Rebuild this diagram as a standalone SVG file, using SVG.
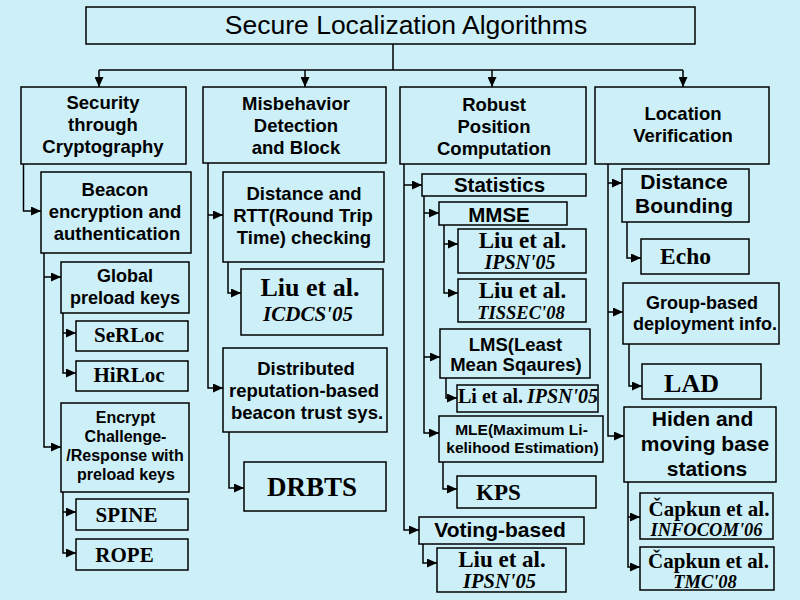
<svg xmlns="http://www.w3.org/2000/svg" width="800" height="600" viewBox="0 0 800 600">
<defs>
<marker id="ah" markerUnits="userSpaceOnUse" markerWidth="10" markerHeight="9" refX="10" refY="4.5" orient="auto">
<path d="M0,0 L10,4.5 L0,9 z" fill="#000"/>
</marker>
<style>
.bg{fill:#cdf0f8}
.box{fill:#cdf0f8;stroke:#000;stroke-width:1.5}
.ln{fill:none;stroke:#000;stroke-width:1.5;marker-end:url(#ah)}
.ln0{fill:none;stroke:#000;stroke-width:1.5}
text{fill:#000;text-anchor:middle}
.s{font-family:"Liberation Sans",Arial,sans-serif;font-weight:bold}
.r{font-family:"Liberation Serif","Times New Roman",serif;font-weight:bold}
.i{font-family:"Liberation Serif","Times New Roman",serif;font-weight:bold;font-style:italic}
.t{font-family:"Liberation Sans",Arial,sans-serif;font-size:26.5px}
</style>
</defs>
<rect class="bg" x="0" y="0" width="800" height="600"/>

<g id="connectors">
<path class="ln0" d="M393,44 V70 M99,70 H683"/>
<path class="ln" d="M99,70 V87"/>
<path class="ln" d="M305,70 V87"/>
<path class="ln" d="M492,70 V87"/>
<path class="ln" d="M683,70 V87"/>
<path class="ln" d="M23.5,164 V211 H41"/>
<path class="ln" d="M44,253 V447 H61"/>
<path class="ln" d="M44,277 H61"/>
<path class="ln" d="M63,313 V373 H76"/>
<path class="ln" d="M63,333 H76"/>
<path class="ln" d="M63,492 V553 H76"/>
<path class="ln" d="M63,512 H76"/>
<path class="ln" d="M208,163 V388 H223"/>
<path class="ln" d="M208,215 H223"/>
<path class="ln" d="M228,262 V293 H241"/>
<path class="ln" d="M229,432 V488 H244"/>
<path class="ln" d="M404,164 V530 H419"/>
<path class="ln" d="M404,185 H422"/>
<path class="ln" d="M424,196 V433 H439"/>
<path class="ln" d="M424,213 H439"/>
<path class="ln" d="M424,357 H440"/>
<path class="ln" d="M444,225 V293 H458"/>
<path class="ln" d="M444,244 H458"/>
<path class="ln" d="M446,378 V398 H457"/>
<path class="ln" d="M443,462 V489 H457"/>
<path class="ln" d="M423,544 V563 H437"/>
<path class="ln" d="M608,164 V436 H624"/>
<path class="ln" d="M608,183 H622"/>
<path class="ln" d="M608,312 H623"/>
<path class="ln" d="M627,222 V258 H641"/>
<path class="ln" d="M629,344 V386 H642"/>
<path class="ln" d="M628,482 V567 H640"/>
<path class="ln" d="M628,517 H640"/>
</g>

<g id="title">
<rect class="box" x="86" y="7" width="609" height="37"/>
<text class="t" x="406" y="34">Secure Localization Algorithms</text>
</g>

<g id="security" font-size="18.5">
<rect class="box" x="21" y="87" width="165" height="77"/>
<text class="s" x="103" y="109">Security</text>
<text class="s" x="103" y="131">through</text>
<text class="s" x="103" y="153">Cryptography</text>
</g>
<g id="misbehavior" font-size="18.5">
<rect class="box" x="203" y="87" width="183" height="76"/>
<text class="s" x="296" y="110">Misbehavior</text>
<text class="s" x="296" y="132">Detection</text>
<text class="s" x="296" y="154">and Block</text>
</g>
<g id="robust" font-size="18.5">
<rect class="box" x="400" y="87" width="186" height="77"/>
<text class="s" x="494" y="111">Robust</text>
<text class="s" x="494" y="133">Position</text>
<text class="s" x="494" y="155">Computation</text>
</g>
<g id="location" font-size="18.5">
<rect class="box" x="595" y="87" width="174" height="77"/>
<text class="s" x="683" y="120">Location</text>
<text class="s" x="683" y="142">Verification</text>
</g>

<g id="beacon" font-size="18.5">
<rect class="box" x="41" y="172" width="150" height="81"/>
<text class="s" x="115" y="196">Beacon</text>
<text class="s" x="115" y="218">encryption and</text>
<text class="s" x="117" y="240">authentication</text>
</g>
<g id="global" font-size="18">
<rect class="box" x="61" y="262" width="128" height="51"/>
<text class="s" x="125" y="282">Global</text>
<text class="s" x="125" y="304">preload keys</text>
</g>
<g id="serloc" font-size="21">
<rect class="box" x="76" y="321" width="112" height="30"/>
<text class="r" x="129" y="342">SeRLoc</text>
</g>
<g id="hirloc" font-size="21">
<rect class="box" x="76" y="361" width="112" height="30"/>
<text class="r" x="129" y="382">HiRLoc</text>
</g>
<g id="encrypt" font-size="16">
<rect class="box" x="61" y="403" width="128" height="89"/>
<text class="s" x="125.5" y="423">Encrypt</text>
<text class="s" x="125.5" y="442">Challenge-</text>
<text class="s" x="125" y="461">/Response with</text>
<text class="s" x="126" y="480">preload keys</text>
</g>
<g id="spine" font-size="21">
<rect class="box" x="76" y="499" width="112" height="31"/>
<text class="r" x="126.5" y="522">SPINE</text>
</g>
<g id="rope" font-size="21">
<rect class="box" x="76" y="539" width="112" height="31"/>
<text class="r" x="124.5" y="562">ROPE</text>
</g>

<g id="distance" font-size="18.5">
<rect class="box" x="223" y="172" width="161" height="90"/>
<text class="s" x="304" y="200">Distance and</text>
<text class="s" x="303" y="222">RTT(Round Trip</text>
<text class="s" x="304" y="244">Time) checking</text>
</g>
<g id="liu-icdcs">
<rect class="box" x="241" y="269" width="142" height="66"/>
<text class="r" x="310" y="296" font-size="26">Liu et al.</text>
<text class="i" x="308" y="321" font-size="21">ICDCS'05</text>
</g>
<g id="distributed" font-size="18.5">
<rect class="box" x="223" y="348" width="164" height="84"/>
<text class="s" x="306" y="375">Distributed</text>
<text class="s" x="304" y="397">reputation-based</text>
<text class="s" x="307" y="419">beacon trust sys.</text>
</g>
<g id="drbts">
<rect class="box" x="244" y="462" width="142" height="49"/>
<text class="r" x="312" y="496" font-size="27">DRBTS</text>
</g>

<g id="statistics" font-size="20.5">
<rect class="box" x="422" y="174" width="164" height="22"/>
<text class="s" x="499.5" y="192">Statistics</text>
</g>
<g id="mmse" font-size="20.5">
<rect class="box" x="439" y="202" width="128" height="23"/>
<text class="s" x="499" y="221.5">MMSE</text>
</g>
<g id="liu-ipsn-mmse">
<rect class="box" x="458" y="229" width="128" height="44"/>
<text class="r" x="522.5" y="248" font-size="23">Liu et al.</text>
<text class="i" x="520" y="269" font-size="20">IPSN'05</text>
</g>
<g id="liu-tissec">
<rect class="box" x="458" y="279" width="128" height="43"/>
<text class="r" x="522.5" y="298" font-size="23">Liu et al.</text>
<text class="i" x="521" y="319" font-size="18.5">TISSEC'08</text>
</g>
<g id="lms" font-size="18.5">
<rect class="box" x="440" y="329" width="150" height="49"/>
<text class="s" x="515.5" y="351">LMS(Least</text>
<text class="s" x="516" y="371">Mean Sqaures)</text>
</g>
<g id="li-ipsn">
<rect class="box" x="457" y="385" width="141" height="27"/>
<text class="r" x="458" y="403" font-size="20" style="text-anchor:start">Li et al.<tspan class="i" dx="4">IPSN'05</tspan></text>
</g>
<g id="mle" font-size="15.5">
<rect class="box" x="439" y="416" width="164" height="46"/>
<text class="s" x="521.5" y="435">MLE(Maximum Li-</text>
<text class="s" x="522.5" y="453">kelihood Estimation)</text>
</g>
<g id="kps">
<rect class="box" x="457" y="476" width="139" height="32"/>
<text class="r" x="476" y="500" font-size="23" style="text-anchor:start">KPS</text>
</g>
<g id="voting" font-size="21">
<rect class="box" x="419" y="517" width="165" height="27"/>
<text class="s" x="500" y="536.5">Voting-based</text>
</g>
<g id="liu-ipsn-voting">
<rect class="box" x="437" y="548" width="129" height="44"/>
<text class="r" x="502" y="566.5" font-size="23">Liu et al.</text>
<text class="i" x="499.5" y="588" font-size="20.5">IPSN'05</text>
</g>

<g id="distance-bounding" font-size="21">
<rect class="box" x="622" y="169" width="127" height="53"/>
<text class="s" x="684" y="189">Distance</text>
<text class="s" x="684" y="213">Bounding</text>
</g>
<g id="echo">
<rect class="box" x="641" y="239" width="108" height="35"/>
<text class="r" x="685.5" y="264" font-size="23.5">Echo</text>
</g>
<g id="group-based" font-size="18">
<rect class="box" x="623" y="283" width="156" height="61"/>
<text class="s" x="702" y="309">Group-based</text>
<text class="s" x="705" y="330">deployment info.</text>
</g>
<g id="lad">
<rect class="box" x="642" y="364" width="119" height="35"/>
<text class="r" x="691.5" y="392" font-size="26">LAD</text>
</g>
<g id="hiden" font-size="21">
<rect class="box" x="624" y="407" width="152" height="75"/>
<text class="s" x="702.5" y="426">Hiden and</text>
<text class="s" x="705" y="450.5">moving base</text>
<text class="s" x="707" y="475.5">stations</text>
</g>
<g id="capkun-infocom">
<rect class="box" x="640" y="493" width="133" height="46"/>
<text class="r" x="709" y="516" font-size="21">Čapkun et al.</text>
<text class="i" x="706.5" y="535.5" font-size="18.5">INFOCOM'06</text>
</g>
<g id="capkun-tmc">
<rect class="box" x="640" y="547" width="134" height="43"/>
<text class="r" x="708.5" y="568" font-size="21">Čapkun et al.</text>
<text class="i" x="705" y="587.5" font-size="18.5">TMC'08</text>
</g>
</svg>
